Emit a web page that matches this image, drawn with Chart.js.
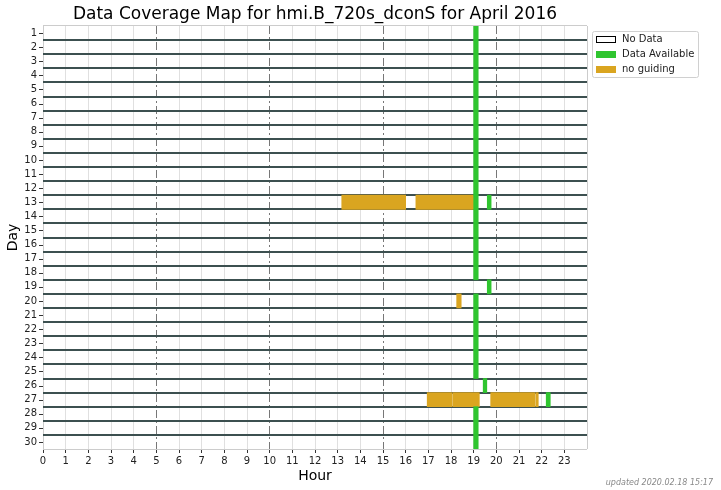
<!DOCTYPE html>
<html>
<head>
<meta charset="utf-8">
<title>Data Coverage Map</title>
<script src="https://cdn.jsdelivr.net/npm/chart.js@4/dist/chart.umd.min.js"></script>
<style>
  html, body { margin: 0; padding: 0; background: #fff; }
</style>
</head>
<body>
<canvas id="coverage" width="721" height="490"></canvas>
<script>
// rows of the map
const days = ['1', '2', '3', '4', '5', '6', '7', '8', '9', '10',
              '11', '12', '13', '14', '15', '16', '17', '18', '19', '20',
              '21', '22', '23', '24', '25', '26', '27', '28', '29', '30'];

// [day, start hour, end hour]
const available = [
    [1, 19.0, 19.2], [2, 19.0, 19.2], [3, 19.0, 19.2], [4, 19.0, 19.2], [5, 19.0, 19.2],
    [6, 19.0, 19.2], [7, 19.0, 19.2], [8, 19.0, 19.2], [9, 19.0, 19.2], [10, 19.0, 19.2],
    [11, 19.0, 19.2], [12, 19.0, 19.2], [13, 19.0, 19.2], [13, 19.6, 19.77], [14, 19.0, 19.2],
    [15, 19.0, 19.2], [16, 19.0, 19.2], [17, 19.0, 19.2], [18, 19.0, 19.2], [19, 19.6, 19.77],
    [20, 19.0, 19.2], [21, 19.0, 19.2], [22, 19.0, 19.2], [23, 19.0, 19.2], [24, 19.0, 19.2],
    [25, 19.0, 19.2], [26, 19.42, 19.58], [27, 22.2, 22.38], [28, 19.0, 19.2], [29, 19.0, 19.2],
    [30, 19.0, 19.2]
];

const noGuiding = [
    [13, 13.18, 16.0], [13, 16.45, 19.15],
    [20, 18.25, 18.45],
    [27, 16.95, 18.06], [27, 18.1, 19.25], [27, 19.75, 21.72], [27, 21.76, 21.85]
];

const seriesNames = ['No Data', 'Data Available', 'no guiding'];
const seriesColors = ['#ffffff', '#2fc52f', '#daa520'];

const titleText = 'Data Coverage Map for hmi.B_720s_dconS for April 2016';
const updatedText = 'updated 2020.02.18 15:17';

const FONT = "'DejaVu Sans', sans-serif";

const toBars = (list) => list.map(([d, a, b]) => ({ y: String(d), x: [a, b] }));

// legend drawn as a framed box like the original
const legendBox = {
    id: 'legendBox',
    afterDraw(chart) {
        const ctx = chart.ctx;
        const x = chart.chartArea.right + 5;
        const y = chart.chartArea.top + 5;
        ctx.save();
        ctx.fillStyle = '#fff';
        ctx.strokeStyle = '#d0d0d0';
        ctx.lineWidth = 1;
        ctx.beginPath();
        ctx.roundRect(x + 0.5, y + 0.5, 106, 46, 2);
        ctx.fill();
        ctx.stroke();
        ctx.font = '10px ' + FONT;
        ctx.textBaseline = 'middle';
        chart.data.datasets.forEach((ds, i) => {
            const cy = y + 8 + i * 15;
            ctx.fillStyle = ds.backgroundColor;
            ctx.fillRect(x + 4, cy - 3, 20, 7);
            if (ds.borderWidth) {
                ctx.strokeStyle = '#000';
                ctx.strokeRect(x + 4.5, cy - 2.5, 19, 6);
            }
            ctx.fillStyle = '#222';
            ctx.fillText(ds.label, x + 30, cy + 0.5);
        });
        ctx.restore();
    }
};

// small tick marks at the day labels, plus the "updated" note
const extras = {
    id: 'extras',
    afterDraw(chart) {
        const ctx = chart.ctx;
        const ys = chart.scales.y;
        const left = chart.chartArea.left;
        ctx.save();
        ctx.strokeStyle = '#333';
        ctx.lineWidth = 1;
        ys.ticks.forEach((t, i) => {
            const py = Math.round(ys.getPixelForTick(i)) + 0.5;
            ctx.beginPath();
            ctx.moveTo(left - 4, py);
            ctx.lineTo(left, py);
            ctx.stroke();
        });
        ctx.font = 'italic 8px ' + FONT;
        ctx.fillStyle = '#888';
        ctx.textAlign = 'right';
        ctx.textBaseline = 'middle';
        ctx.fillText(updatedText, 713, 483);
        ctx.restore();
    }
};

const isEdgeRow = (c) => c.index === undefined || c.index === 0;
const hourOf = (c) => (c.tick ? c.tick.value : -1);

new Chart(document.getElementById('coverage'), {
    type: 'bar',
    data: {
        labels: days,
        datasets: [
            { label: seriesNames[0], data: [], backgroundColor: seriesColors[0], borderWidth: 1 },
            { label: seriesNames[1], data: toBars(available), backgroundColor: seriesColors[1], borderWidth: 0 },
            { label: seriesNames[2], data: toBars(noGuiding), backgroundColor: seriesColors[2], borderWidth: 0 }
        ]
    },
    options: {
        indexAxis: 'y',
        responsive: false,
        animation: false,
        devicePixelRatio: 1,
        grouped: false,
        barPercentage: 1,
        categoryPercentage: 1,
        layout: { padding: { left: 0, right: 134, top: 0, bottom: 0 } },
        plugins: {
            legend: { display: false },
            tooltip: { enabled: false },
            title: {
                display: true,
                text: titleText,
                fullSize: false,
                color: '#000',
                font: { family: FONT, size: 17, weight: 'normal' },
                padding: { top: 4, bottom: 1.6 }
            }
        },
        scales: {
            x: {
                type: 'linear',
                min: 0,
                max: 24,
                ticks: {
                    stepSize: 1,
                    autoSkip: false,
                    maxRotation: 0,
                    padding: 2,
                    color: '#222',
                    font: { family: FONT, size: 10 },
                    callback: (v) => (v === 24 ? '' : v)
                },
                grid: {
                    lineWidth: 1,
                    color: (c) => {
                        const v = hourOf(c);
                        if (v === 0 || v === 24) return '#cccccc';
                        return v % 5 === 0 ? '#777777' : '#e0e0e0';
                    },
                    tickLength: 4,
                    tickWidth: 1,
                    tickColor: (c) => (hourOf(c) === 24 ? 'rgba(0,0,0,0)' : '#333')
                },
                border: {
                    display: false,
                    dash: (c) => {
                        const v = hourOf(c);
                        return (v > 0 && v < 24 && v % 5 === 0) ? [8, 3, 2, 3] : [];
                    }
                },
                title: {
                    display: true,
                    text: 'Hour',
                    color: '#000',
                    font: { family: FONT, size: 14 },
                    padding: { top: 0, bottom: 5 }
                },
                afterFit: (s) => { s.height = 41; }
            },
            y: {
                type: 'category',
                offset: true,
                ticks: {
                    autoSkip: false,
                    padding: 6,
                    color: '#222',
                    font: { family: FONT, size: 10 }
                },
                grid: {
                    offset: true,
                    drawTicks: false,
                    color: (c) => (isEdgeRow(c) ? '#cccccc' : '#3c5050'),
                    lineWidth: (c) => (isEdgeRow(c) ? 1 : 2)
                },
                border: { display: false },
                title: {
                    display: true,
                    text: 'Day',
                    color: '#000',
                    font: { family: FONT, size: 14 },
                    padding: { top: 5, bottom: 0 }
                },
                afterFit: (s) => { s.width = 43; }
            }
        }
    },
    plugins: [legendBox, extras]
});
</script>
</body>
</html>
